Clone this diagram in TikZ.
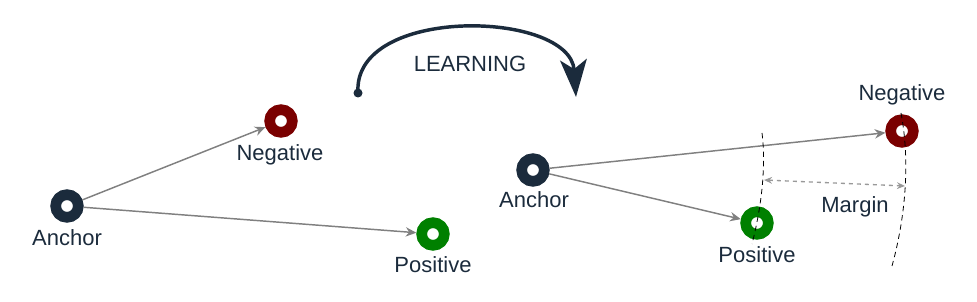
\documentclass[tikz,border=0pt]{standalone}
\usepackage{fontspec}
\setmainfont{Liberation Sans}
\usetikzlibrary{arrows.meta}
\definecolor{navy}{HTML}{1B2B3C}
\definecolor{negred}{HTML}{7A0000}
\definecolor{posgreen}{HTML}{008000}
\definecolor{arrgray}{HTML}{808080}
\tikzset{
  ring/.style={circle, draw=#1, line width=8pt, minimum size=17pt, inner sep=0pt, fill=white},
  lbl/.style={text=navy, font=\fontsize{16.5}{19}\selectfont, inner sep=0pt},
  conn/.style={draw=arrgray, line width=1.1pt, -{Stealth[length=8pt,width=7pt]}, shorten >=0pt},
  bound/.style={draw=black, line width=0.6pt, dash pattern=on 4pt off 3pt},
}
\begin{document}
\begin{tikzpicture}[x=0.75pt,y=-0.75pt]
\useasboundingbox (0,0) rectangle (977,302);
% left group
\node[ring=navy] (a1) at (67,206) {};
\node[lbl] (a1l) at (67,238) {Anchor};
\node[ring=negred] (n1) at (281,121) {};
\node[lbl] (n1l) at (280,155) {Negative};
\node[ring=posgreen] (p1) at (433,234) {};
\node[lbl] (p1l) at (433,265) {Positive};
\draw[conn] (a1) -- (n1);
\draw[conn] (a1) -- (p1);
% learning arrow
\coordinate (ls) at (358,93);
\coordinate (le) at (576,97);
\fill[navy] (ls) circle (4.5);
\draw[navy, line width=2.6pt, -{Stealth[length=28pt,width=20pt,inset=7pt]}] (ls) .. controls (352,5) and (570,10) .. (le);
\node[lbl] (learn) at (470,64) {LEARNING};
% right group
\node[ring=navy] (a2) at (533,170) {};
\node[lbl] (a2l) at (534,200) {Anchor};
\node[ring=negred] (n2) at (902,131) {};
\node[lbl] (n2l) at (902,95) {Negative};
\node[ring=posgreen] (p2) at (757,223) {};
\node[lbl] (p2l) at (757,255) {Positive};
\draw[conn] (a2) -- (n2);
\draw[conn] (a2) -- (p2);
% boundaries
\coordinate (b1t) at (762,133);
\coordinate (b1m) at (764,180);
\coordinate (b1b) at (752,244);
\draw[bound] (b1t) .. controls (766,165) and (762,205) .. (b1b);
\coordinate (b2t) at (901,113);
\coordinate (b2m) at (905,186);
\coordinate (b2b) at (892,266);
\draw[bound] (b2t) .. controls (910,160) and (906,215) .. (b2b);
\draw[draw=arrgray!80, line width=1pt, dashed, {Stealth[length=6pt,width=5pt]}-{Stealth[length=6pt,width=5pt]}] (b1m) -- (b2m);
\node[lbl] (marg) at (855,207) {Margin};
\end{tikzpicture}
\end{document}
